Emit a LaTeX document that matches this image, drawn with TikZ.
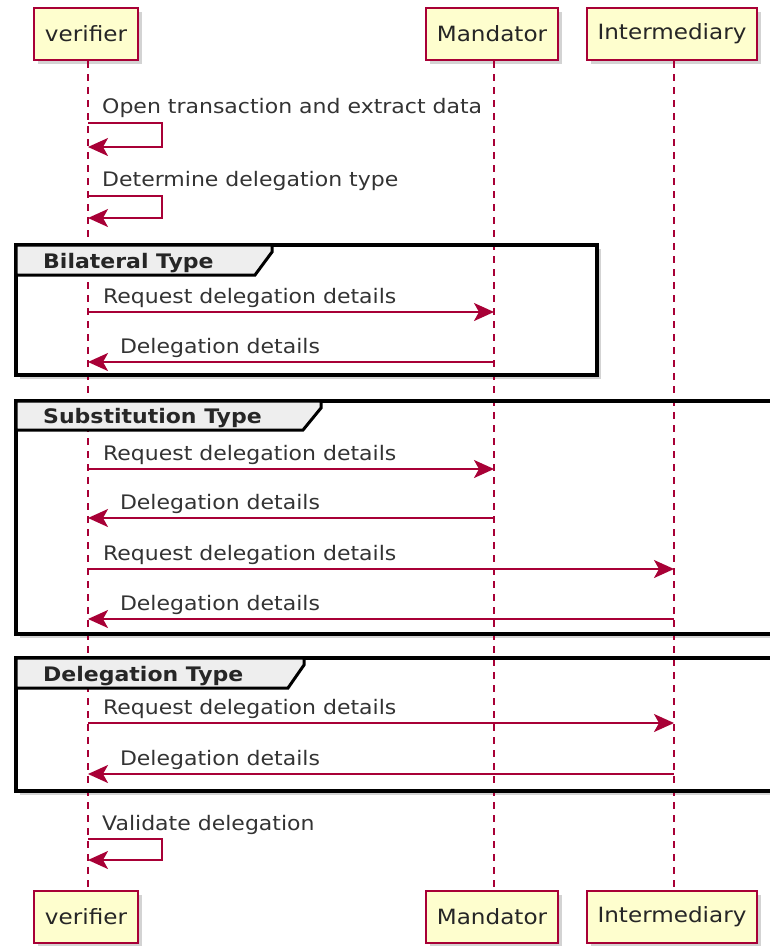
\documentclass[tikz,border=0pt]{standalone}
\usepackage{fontspec}
\setmainfont{DejaVu Sans}[FakeStretch=1.1]
\usetikzlibrary{arrows.meta,shadows}
\definecolor{umlred}{RGB}{168,0,54}
\definecolor{umlfill}{RGB}{254,254,206}
\definecolor{tabgray}{RGB}{238,238,238}

\begin{document}
\begin{tikzpicture}[x=1pt,y=-1pt,
  actor/.style={draw=umlred,fill=umlfill,line width=2pt,minimum height=52pt,
    inner xsep=11pt,text=black!85,font=\fontsize{21}{24}\selectfont,
    drop shadow={shadow xshift=4pt,shadow yshift=-4pt,opacity=0.35}},
  life/.style={umlred,dash pattern=on 7pt off 6pt,line width=1.5pt},
  msg/.style={umlred,line width=2pt,-{Stealth[length=20pt,width=18pt,inset=5pt]}},
  lbl/.style={anchor=base west,inner sep=0pt,text=black!80,font=\fontsize{20}{23}\selectfont},
  grp/.style={fill=white,draw=black,line width=3.5pt,
    drop shadow={shadow xshift=4pt,shadow yshift=-4pt,opacity=0.35}},
  grptab/.style={fill=tabgray,draw=black,line width=3pt},
  grplbl/.style={anchor=base west,inner sep=0pt,text=black!85,font=\fontsize{20}{23}\selectfont\bfseries}]
\useasboundingbox (0,0) rectangle (770,946);

% group frames
\draw[grp] (16,245) rectangle (597,375);
\draw[grp] (16,401) rectangle (790,634);
\draw[grp] (16,658) rectangle (790,791);

% participants
\node[actor] (vtop) at (86,34) {verifier};
\node[actor] (mtop) at (492,34) {Mandator};
\node[actor] (itop) at (672,34) {Intermediary};
\node[actor] (vbot) at (86,917) {verifier};
\node[actor] (mbot) at (492,917) {Mandator};
\node[actor] (ibot) at (672,917) {Intermediary};

\draw[life] (vtop.south -| 88,0) -- (vbot.north -| 88,0);
\draw[life] (mtop.south -| 494,0) -- (mbot.north -| 494,0);
\draw[life] (itop.south -| 674,0) -- (ibot.north -| 674,0);
\coordinate (vl) at (88,0);
\coordinate (ml) at (494,0);
\coordinate (il) at (674,0);

% frame borders and tabs
\draw[black,line width=3.5pt] (16,245) rectangle (597,375);
\draw[grptab] (16,245) -- (272,245) -- (272,252) -- (255,275) -- (16,275) -- cycle;
\node[grplbl] at (43,268) {Bilateral Type};
\draw[black,line width=3.5pt] (16,401) rectangle (790,634);
\draw[grptab] (16,401) -- (321,401) -- (321,408) -- (303,430) -- (16,430) -- cycle;
\node[grplbl] at (43,423) {Substitution Type};
\draw[black,line width=3.5pt] (16,658) rectangle (790,791);
\draw[grptab] (16,658) -- (304,658) -- (304,665) -- (288,688) -- (16,688) -- cycle;
\node[grplbl] at (43,681) {Delegation Type};

% self messages
\draw[msg] (vl |- 0,123) -- (162,123) -- (162,147) -- (vl |- 0,147);
\node[lbl] at (102,113) {Open transaction and extract data};
\draw[msg] (vl |- 0,196) -- (162,196) -- (162,218) -- (vl |- 0,218);
\node[lbl] at (102,186) {Determine delegation type};

% bilateral
\draw[msg] (vl |- 0,312) -- node[lbl,at start,xshift=14pt,yshift=9pt] {Request delegation details} (ml |- 0,312);
\draw[msg] (ml |- 0,362) -- node[lbl,at end,xshift=31pt,yshift=9pt] {Delegation details} (vl |- 0,362);

% substitution
\draw[msg] (vl |- 0,469) -- node[lbl,at start,xshift=14pt,yshift=9pt] {Request delegation details} (ml |- 0,469);
\draw[msg] (ml |- 0,518) -- node[lbl,at end,xshift=31pt,yshift=9pt] {Delegation details} (vl |- 0,518);
\draw[msg] (vl |- 0,569) -- node[lbl,at start,xshift=14pt,yshift=9pt] {Request delegation details} (il |- 0,569);
\draw[msg] (il |- 0,619) -- node[lbl,at end,xshift=31pt,yshift=9pt] {Delegation details} (vl |- 0,619);

% delegation
\draw[msg] (vl |- 0,723) -- node[lbl,at start,xshift=14pt,yshift=9pt] {Request delegation details} (il |- 0,723);
\draw[msg] (il |- 0,774) -- node[lbl,at end,xshift=31pt,yshift=9pt] {Delegation details} (vl |- 0,774);

\draw[msg] (vl |- 0,839) -- (162,839) -- (162,860) -- (vl |- 0,860);
\node[lbl] at (102,830) {Validate delegation};
\end{tikzpicture}
\end{document}
